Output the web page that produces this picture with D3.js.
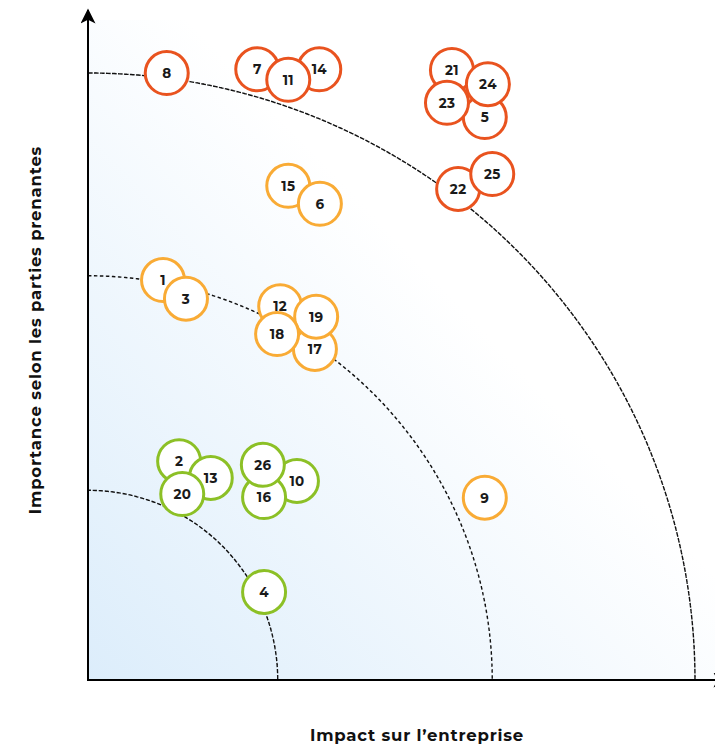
<!DOCTYPE html>
<html>
<head>
<meta charset="utf-8">
<script src="https://cdn.jsdelivr.net/npm/d3@7"></script>
<style>
  body { margin: 0; background: #fff; }
  text { font-family: Montserrat, Inter, "Noto Sans", sans-serif; }
</style>
</head>
<body>
<script>
// Enjeux (numéro, impact, importance, niveau)
var ids = [8, 7, 14, 11, 21, 5, 23, 24, 15, 6, 22, 25, 1, 3, 12, 17, 19, 18, 9, 2, 13, 20, 10, 16, 26, 4];
var impact = [12.7, 27.3, 37.3, 32.3, 58.7, 64.0, 57.9, 64.5, 32.3, 37.4, 59.7, 65.2, 12.1, 15.8, 31.0, 36.6, 36.8, 30.5, 64.0, 14.7, 19.8, 15.2, 33.7, 28.4, 28.2, 28.4];
var importance = [97.9, 98.5, 98.5, 96.8, 98.4, 90.8, 93.1, 96.1, 79.7, 76.8, 79.2, 81.6, 64.5, 61.5, 60.3, 53.4, 58.6, 55.8, 29.4, 35.3, 32.6, 30.0, 32.1, 29.5, 34.7, 14.2];
var level = ["high", "high", "high", "high", "high", "high", "high", "high", "mid", "mid", "high", "high", "mid", "mid", "mid", "mid", "mid", "mid", "mid", "low", "low", "low", "low", "low", "low", "low"];
var arcs = [30.6, 65.2, 97.9];

var colors = { high: "#e9531f", mid: "#f9ab35", low: "#8cc026" };

var svgWidth = 715;
var svgHeight = 744;
var origin = { x: 88, y: 680 };

var svg = d3.select("body")
  .append("svg")
  .attr("width", svgWidth)
  .attr("height", svgHeight);

var x = d3.scaleLinear().domain([0, 100]).range([origin.x, origin.x + 620]);
var y = d3.scaleLinear().domain([0, 100]).range([origin.y, origin.y - 620]);

// background gradient
var defs = svg.append("defs");
var grad = defs.append("linearGradient")
  .attr("id", "bg")
  .attr("x1", 0).attr("y1", 1).attr("x2", 1).attr("y2", 0);
grad.append("stop").attr("offset", 0).attr("stop-color", "#dcedfb");
grad.append("stop").attr("offset", 0.58).attr("stop-color", "#ffffff");

svg.append("rect")
  .attr("x", origin.x)
  .attr("y", 20)
  .attr("width", svgWidth - origin.x)
  .attr("height", origin.y - 20)
  .attr("fill", "url(#bg)");

// dashed arcs
var arcGen = d3.arc()
  .startAngle(0)
  .endAngle(Math.PI / 2);

svg.append("g")
  .attr("transform", `translate(${origin.x}, ${origin.y})`)
  .selectAll("path")
  .data(arcs)
  .enter()
  .append("path")
  .attr("d", d => arcGen({ innerRadius: x(d) - origin.x, outerRadius: x(d) - origin.x }))
  .attr("fill", "none")
  .attr("stroke", "#111")
  .attr("stroke-width", 1.4)
  .attr("stroke-dasharray", "3,3");

// axes with arrows
var marker = defs.append("marker")
  .attr("id", "arrow")
  .attr("viewBox", "0 0 10 10")
  .attr("refX", 9).attr("refY", 5)
  .attr("markerWidth", 17).attr("markerHeight", 15)
  .attr("markerUnits", "userSpaceOnUse")
  .attr("orient", "auto");
marker.append("path").attr("d", "M0,0 L10,5 L0,10 L2.5,5 Z").attr("fill", "#000");

svg.append("line")
  .attr("x1", origin.x).attr("y1", origin.y + 1)
  .attr("x2", origin.x).attr("y2", 10)
  .attr("stroke", "#000").attr("stroke-width", 2)
  .attr("marker-end", "url(#arrow)");

svg.append("line")
  .attr("x1", origin.x - 1).attr("y1", origin.y)
  .attr("x2", 727).attr("y2", origin.y)
  .attr("stroke", "#000").attr("stroke-width", 2)
  .attr("marker-end", "url(#arrow)");

// bubbles
var data = ids.map((id, i) => ({ id: id, x: impact[i], y: importance[i], level: level[i] }));

var bubbles = svg.append("g")
  .selectAll("g")
  .data(data)
  .enter()
  .append("g")
  .attr("transform", d => `translate(${x(d.x)}, ${y(d.y)})`);

bubbles.append("circle")
  .attr("r", 21.5)
  .attr("fill", "#fff")
  .attr("stroke", d => colors[d.level])
  .attr("stroke-width", 3);

bubbles.append("text")
  .attr("text-anchor", "middle")
  .attr("dy", "0.36em")
  .attr("font-size", 13.5)
  .attr("font-weight", 700)
  .attr("letter-spacing", 0.3)
  .attr("fill", "#1a1a1a")
  .text(d => d.id);

// axis titles
svg.append("text")
  .attr("x", 417)
  .attr("y", 741)
  .attr("text-anchor", "middle")
  .attr("font-size", 16.5)
  .attr("font-weight", 700)
  .attr("letter-spacing", 0.8)
  .attr("fill", "#111")
  .text("Impact sur l’entreprise");

svg.append("text")
  .attr("transform", "translate(41, 330) rotate(-90)")
  .attr("text-anchor", "middle")
  .attr("font-size", 16.5)
  .attr("font-weight", 700)
  .attr("letter-spacing", 0.8)
  .attr("fill", "#111")
  .text("Importance selon les parties prenantes");
</script>
</body>
</html>
